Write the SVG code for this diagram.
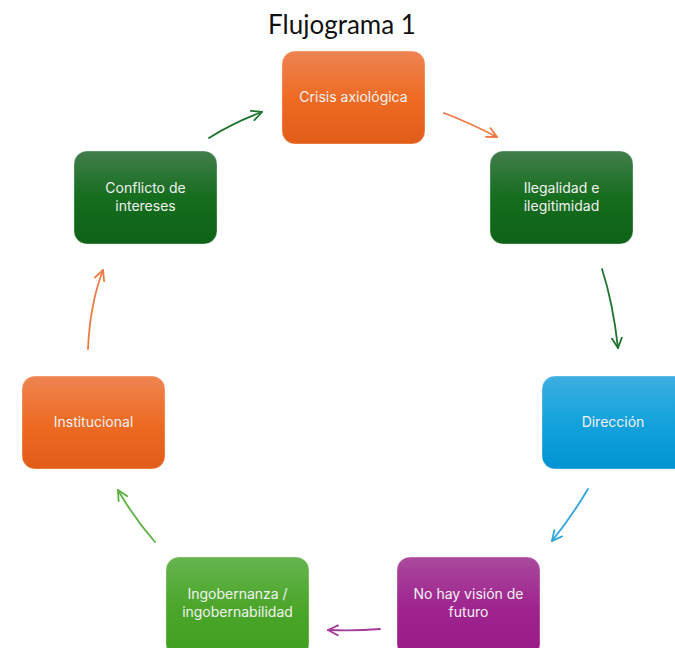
<svg xmlns="http://www.w3.org/2000/svg" width="675" height="648" viewBox="0 0 675 648">
  <defs>
    <linearGradient id="gOrange" x1="0" y1="0" x2="0" y2="1">
      <stop offset="0" stop-color="#EE8452"/>
      <stop offset="0.5" stop-color="#EE6B24"/>
      <stop offset="1" stop-color="#E25D18"/>
    </linearGradient>
    <linearGradient id="gDarkGreen" x1="0" y1="0" x2="0" y2="1">
      <stop offset="0" stop-color="#427E4B"/>
      <stop offset="0.5" stop-color="#156D1E"/>
      <stop offset="1" stop-color="#0E6216"/>
    </linearGradient>
    <linearGradient id="gBlue" x1="0" y1="0" x2="0" y2="1">
      <stop offset="0" stop-color="#3DAEE2"/>
      <stop offset="0.5" stop-color="#14A2DD"/>
      <stop offset="1" stop-color="#0094D2"/>
    </linearGradient>
    <linearGradient id="gPurple" x1="0" y1="0" x2="0" y2="1">
      <stop offset="0" stop-color="#AA4A9C"/>
      <stop offset="0.5" stop-color="#9F248F"/>
      <stop offset="1" stop-color="#981B88"/>
    </linearGradient>
    <linearGradient id="gGreen" x1="0" y1="0" x2="0" y2="1">
      <stop offset="0" stop-color="#66B44E"/>
      <stop offset="0.5" stop-color="#4BA62A"/>
      <stop offset="1" stop-color="#3F9E1F"/>
    </linearGradient>
    <marker id="hOrange" viewBox="0 0 12 12" refX="11" refY="6" markerWidth="12" markerHeight="12" markerUnits="userSpaceOnUse" orient="auto">
      <path d="M1,1 L11,6 L1,11" fill="none" stroke="#EE7A45" stroke-width="1.8" stroke-linecap="round" stroke-linejoin="round"/>
    </marker>
    <marker id="hDarkGreen" viewBox="0 0 12 12" refX="11" refY="6" markerWidth="12" markerHeight="12" markerUnits="userSpaceOnUse" orient="auto">
      <path d="M1,1 L11,6 L1,11" fill="none" stroke="#1E7330" stroke-width="1.8" stroke-linecap="round" stroke-linejoin="round"/>
    </marker>
    <marker id="hBlue" viewBox="0 0 12 12" refX="11" refY="6" markerWidth="12" markerHeight="12" markerUnits="userSpaceOnUse" orient="auto">
      <path d="M1,1 L11,6 L1,11" fill="none" stroke="#2EA6DA" stroke-width="1.8" stroke-linecap="round" stroke-linejoin="round"/>
    </marker>
    <marker id="hPurple" viewBox="0 0 12 12" refX="11" refY="6" markerWidth="12" markerHeight="12" markerUnits="userSpaceOnUse" orient="auto">
      <path d="M1,1 L11,6 L1,11" fill="none" stroke="#A43A97" stroke-width="1.8" stroke-linecap="round" stroke-linejoin="round"/>
    </marker>
    <marker id="hGreen" viewBox="0 0 12 12" refX="11" refY="6" markerWidth="12" markerHeight="12" markerUnits="userSpaceOnUse" orient="auto">
      <path d="M1,1 L11,6 L1,11" fill="none" stroke="#5BB040" stroke-width="1.8" stroke-linecap="round" stroke-linejoin="round"/>
    </marker>
  </defs>
  <style>
    .title { font-family: Lato, "Open Sans", "Liberation Sans", sans-serif; font-size: 26px; fill: #111; }
    .box { stroke: #ffffff; stroke-opacity: 0.35; stroke-width: 1; }
    .label { font-family: Inter, "Open Sans", "Liberation Sans", sans-serif; font-size: 14px; fill: #F2F2F2; text-anchor: middle; }
    .conn { fill: none; stroke-width: 1.8; stroke-linecap: round; }
  </style>

  <rect width="675" height="648" fill="#ffffff"/>

  <text class="title" x="342" y="34" text-anchor="middle">Flujograma 1</text>

  <!-- process nodes -->
  <g id="crisis">
    <rect class="box" x="282" y="51" width="143" height="93" rx="13" fill="url(#gOrange)"/>
    <text class="label" x="353.5" y="102">Crisis axiológica</text>
  </g>
  <g id="ilegalidad">
    <rect class="box" x="490" y="151" width="143" height="93" rx="13" fill="url(#gDarkGreen)"/>
    <text class="label" x="561.5" y="193">Ilegalidad e</text>
    <text class="label" x="561.5" y="211">ilegitimidad</text>
  </g>
  <g id="direccion">
    <rect class="box" x="542" y="376" width="150" height="93" rx="13" fill="url(#gBlue)"/>
    <text class="label" x="613" y="427">Dirección</text>
  </g>
  <g id="vision">
    <rect class="box" x="397" y="557" width="143" height="100" rx="13" fill="url(#gPurple)"/>
    <text class="label" x="468.5" y="599">No hay visión de</text>
    <text class="label" x="468.5" y="617">futuro</text>
  </g>
  <g id="ingobernanza">
    <rect class="box" x="166" y="557" width="143" height="100" rx="13" fill="url(#gGreen)"/>
    <text class="label" x="237.5" y="599">Ingobernanza /</text>
    <text class="label" x="237.5" y="617">ingobernabilidad</text>
  </g>
  <g id="institucional">
    <rect class="box" x="22" y="376" width="143" height="93" rx="13" fill="url(#gOrange)"/>
    <text class="label" x="93.5" y="427">Institucional</text>
  </g>
  <g id="conflicto">
    <rect class="box" x="74" y="151" width="143" height="93" rx="13" fill="url(#gDarkGreen)"/>
    <text class="label" x="145.5" y="193">Conflicto de</text>
    <text class="label" x="145.5" y="211">intereses</text>
  </g>

  <!-- hand-drawn style connectors -->
  <g id="connectors">
    <path class="conn" d="M209,138 Q233,123 262,112" stroke="#1E7330" marker-end="url(#hDarkGreen)"/>
    <path class="conn" d="M444,113 Q470,123 497,137" stroke="#EE7A45" marker-end="url(#hOrange)"/>
    <path class="conn" d="M602,269 Q613,303 618,348" stroke="#1E7330" marker-end="url(#hDarkGreen)"/>
    <path class="conn" d="M588,489 Q572,516 552,541" stroke="#2EA6DA" marker-end="url(#hBlue)"/>
    <path class="conn" d="M380,629 Q356,631 328,630" stroke="#A43A97" marker-end="url(#hPurple)"/>
    <path class="conn" d="M155,542 Q134,518 118,490" stroke="#5BB040" marker-end="url(#hGreen)"/>
    <path class="conn" d="M88,349 Q90,304 103,270" stroke="#EE7A45" marker-end="url(#hOrange)"/>
  </g>
</svg>
